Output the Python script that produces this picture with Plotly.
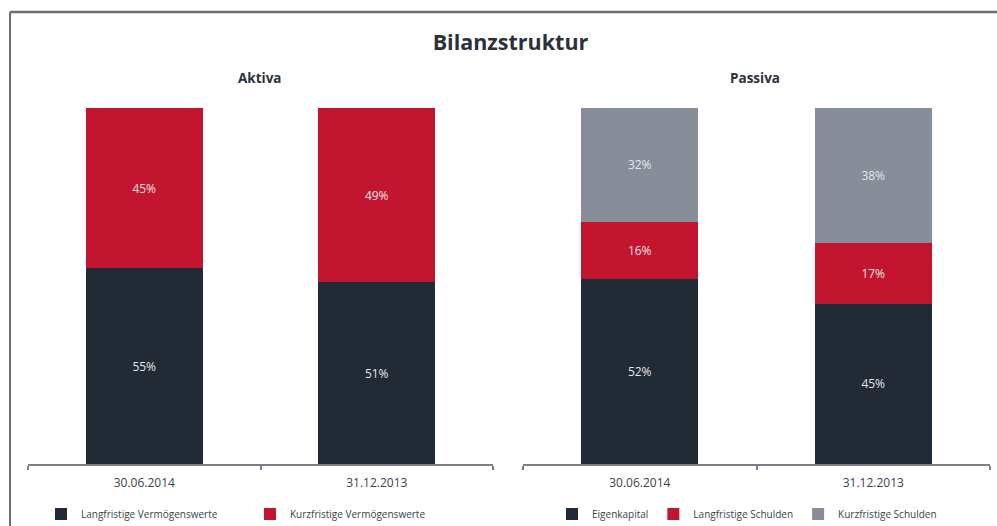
import plotly.graph_objects as go

dates = ["30.06.2014", "31.12.2013"]
lang_verm = [55, 51]
kurz_verm = [45, 49]
eigenkapital = [52, 45]
lang_schulden = [16, 17]
kurz_schulden = [32, 38]

DARK = "#222a35"
RED = "#c41530"
GRAY = "#878d99"
TXT = "#2b303b"
AX = "#7d8088"
FONT = "Open Sans"

W, H = 997, 526

fig = go.Figure()

def add(name, y, color, xa, ya, leg):
    fig.add_trace(go.Bar(
        name=name, x=dates, y=y, marker=dict(color=color, line=dict(width=0)),
        xaxis=xa, yaxis=ya, legend=leg,
        texttemplate="%{y}%", textposition="inside", insidetextanchor="middle",
        textangle=0, textfont=dict(color="#e4e6ea", size=12, family=FONT),
    ))

add("Langfristige Vermögenswerte", lang_verm, DARK, "x", "y", "legend")
add("Kurzfristige Vermögenswerte", kurz_verm, RED, "x", "y", "legend")
add("Eigenkapital", eigenkapital, DARK, "x2", "y2", "legend2")
add("Langfristige Schulden", lang_schulden, RED, "x2", "y2", "legend2")
add("Kurzfristige Schulden", kurz_schulden, GRAY, "x2", "y2", "legend2")

ydom = [1 - 464 / H, 1 - 108 / H]
xcommon = dict(showline=True, linecolor=AX, linewidth=1.5, ticks="outside",
               tickson="boundaries", ticklen=4, tickwidth=1.5, tickcolor=AX,
               tickfont=dict(size=12, color="#3a3f4a", family=FONT),
               ticklabelstandoff=7,
               showgrid=False, zeroline=False, fixedrange=True)
ycommon = dict(range=[0, 100], visible=False, showgrid=False, domain=ydom, fixedrange=True)

legfont = dict(size=10, color="#3a3f4a", family=FONT)

fig.update_layout(
    width=W, height=H,
    margin=dict(l=0, r=0, t=0, b=0, autoexpand=False),
    paper_bgcolor="white", plot_bgcolor="white",
    barmode="stack", bargap=0.497,
    font=dict(family=FONT, color=TXT),
    title=dict(text="<b>Bilanzstruktur</b>", x=0.512, xanchor="center",
               y=1 - 42 / H, yanchor="middle", font=dict(size=21.5, color=TXT, family=FONT)),
    xaxis=dict(domain=[28 / W, 493 / W], anchor="y", **xcommon),
    xaxis2=dict(domain=[523 / W, 990 / W], anchor="y2", **xcommon),
    yaxis=dict(anchor="x", **ycommon),
    yaxis2=dict(anchor="x2", **ycommon),
    legend=dict(orientation="h", x=41 / W, xanchor="left", y=1 - 514 / H, yanchor="middle",
                font=legfont, entrywidth=164, traceorder="normal",
                bgcolor="rgba(0,0,0,0)"),
    legend2=dict(orientation="h", x=552 / W, xanchor="left", y=1 - 514 / H, yanchor="middle",
                 font=legfont, traceorder="normal",
                 bgcolor="rgba(0,0,0,0)"),
    annotations=[
        dict(text="<b>Aktiva</b>", x=260 / W, y=1 - 78 / H, xref="paper", yref="paper",
             xanchor="center", yanchor="middle",
             showarrow=False, font=dict(size=13.5, color=TXT, family=FONT)),
        dict(text="<b>Passiva</b>", x=755 / W, y=1 - 78 / H, xref="paper", yref="paper",
             xanchor="center", yanchor="middle",
             showarrow=False, font=dict(size=13.5, color=TXT, family=FONT)),
    ],
    shapes=[
        dict(type="line", xref="paper", yref="paper", x0=10 / W, x1=1, y0=1 - 12 / H, y1=1 - 12 / H,
             line=dict(color="#6b6e76", width=2.5)),
        dict(type="line", xref="paper", yref="paper", x0=10 / W, x1=10 / W, y0=1 - 12 / H, y1=0,
             line=dict(color="#6b6e76", width=2)),
    ],
)

fig.write_html("out.html")
